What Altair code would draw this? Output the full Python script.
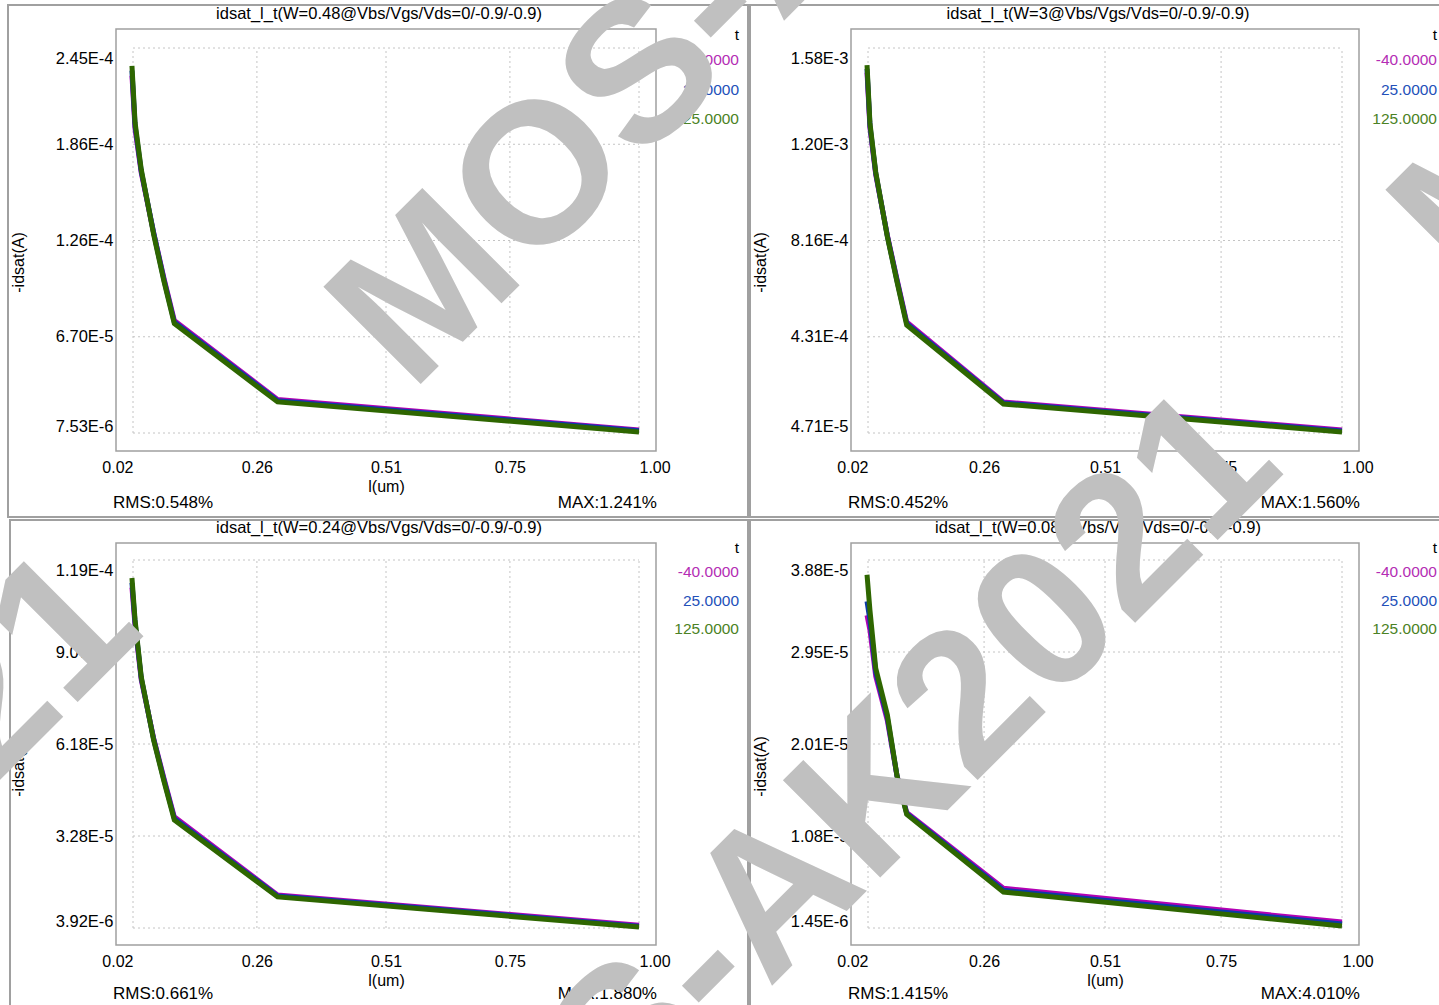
import json
import altair as alt
import pandas as pd

# ---------------- data ----------------
TEMPS = ["-40.0000", "25.0000", "125.0000"]
LINE_COLORS = ["#b400b4", "#0b3aa8", "#2e6600"]
LEGEND_COLORS = ["#b42db4", "#2350b9", "#4b8224"]

L_UM = [0.018, 0.024, 0.036, 0.06, 0.08, 0.1, 0.3, 1.0]
X_TICKS = [0.02, 0.26, 0.51, 0.75, 1.00]

P1_TITLE = "idsat_l_t(W=0.48@Vbs/Vgs/Vds=0/-0.9/-0.9)"
P1_M40 = [2.28e-4, 1.95e-4, 1.68e-4, 1.31e-4, 1.03e-4, 7.7e-5, 2.82e-5, 9.4e-6]
P1_P25 = [2.31e-4, 1.97e-4, 1.69e-4, 1.31e-4, 1.02e-4, 7.6e-5, 2.75e-5, 8.9e-6]
P1_P125 = [2.34e-4, 1.99e-4, 1.70e-4, 1.30e-4, 1.01e-4, 7.5e-5, 2.67e-5, 8.2e-6]
P1_YLABELS = ["7.53E-6", "6.70E-5", "1.26E-4", "1.86E-4", "2.45E-4"]
P1_YRANGE = [7.53e-6, 2.45e-4]
P1_RMS = "RMS:0.548%"
P1_MAX = "MAX:1.241%"

P2_TITLE = "idsat_l_t(W=3@Vbs/Vgs/Vds=0/-0.9/-0.9)"
P2_M40 = [1.485e-3, 1.265e-3, 1.078e-3, 8.36e-4, 6.60e-4, 4.90e-4, 1.71e-4, 5.9e-5]
P2_P25 = [1.500e-3, 1.275e-3, 1.083e-3, 8.33e-4, 6.55e-4, 4.84e-4, 1.67e-4, 5.5e-5]
P2_P125 = [1.515e-3, 1.284e-3, 1.088e-3, 8.30e-4, 6.50e-4, 4.78e-4, 1.63e-4, 5.1e-5]
P2_YLABELS = ["4.71E-5", "4.31E-4", "8.16E-4", "1.20E-3", "1.58E-3"]
P2_YRANGE = [4.71e-5, 1.583e-3]
P2_RMS = "RMS:0.452%"
P2_MAX = "MAX:1.560%"

P3_TITLE = "idsat_l_t(W=0.24@Vbs/Vgs/Vds=0/-0.9/-0.9)"
P3_M40 = [1.110e-4, 0.990e-4, 8.20e-5, 6.36e-5, 5.10e-5, 3.89e-5, 1.43e-5, 4.8e-6]
P3_P25 = [1.125e-4, 1.000e-4, 8.25e-5, 6.33e-5, 5.05e-5, 3.84e-5, 1.40e-5, 4.5e-6]
P3_P125 = [1.140e-4, 1.008e-4, 8.29e-5, 6.30e-5, 5.00e-5, 3.79e-5, 1.37e-5, 4.2e-6]
P3_YLABELS = ["3.92E-6", "3.28E-5", "6.18E-5", "9.07E-5", "1.19E-4"]
P3_YRANGE = [3.92e-6, 1.1968e-4]
P3_RMS = "RMS:0.661%"
P3_MAX = "MAX:1.880%"

P4_TITLE = "idsat_l_t(W=0.08@Vbs/Vgs/Vds=0/-0.9/-0.9)"
P4_M40 = [3.32e-5, 3.17e-5, 2.70e-5, 2.25e-5, 1.69e-5, 1.32e-5, 5.5e-6, 2.07e-6]
P4_P25 = [3.46e-5, 3.27e-5, 2.74e-5, 2.28e-5, 1.69e-5, 1.31e-5, 5.3e-6, 1.87e-6]
P4_P125 = [3.73e-5, 3.37e-5, 2.78e-5, 2.31e-5, 1.69e-5, 1.30e-5, 5.12e-6, 1.67e-6]
P4_YLABELS = ["1.45E-6", "1.08E-5", "2.01E-5", "2.95E-5", "3.88E-5"]
P4_YRANGE = [1.47e-6, 3.88e-5]
P4_RMS = "RMS:1.415%"
P4_MAX = "MAX:4.010%"

WATERMARK = "MOS-AK2021"

FONT = "Liberation Sans"
GRID_COLOR = "#c4c4c4"
FRAME_COLOR = "#a0a0a0"


def one(text):
    return pd.DataFrame({"label": [text]})


def make_panel(title, series, ylabels, yrange, rms, mx, W, H, ins_top, ins_bot,
               ytitle_x, legend_dx, legend_ys, stats_dy, border, watermark=None):
    ins_x = 17
    kx = (X_TICKS[-1] - X_TICKS[0]) / (W - 2 * ins_x)
    xs = alt.Scale(domain=[X_TICKS[0] - ins_x * kx, X_TICKS[-1] + ins_x * kx],
                   nice=False, zero=False)
    lo, hi = yrange
    ky = (hi - lo) / (H - ins_top - ins_bot)
    ys = alt.Scale(domain=[lo - ins_bot * ky, hi + ins_top * ky], nice=False, zero=False)
    step = (hi - lo) / (len(ylabels) - 1)
    yticks = [lo + i * step for i in range(len(ylabels))]

    label_expr = json.dumps(ylabels) + f"[round((datum.value - ({lo!r}))/({step!r}))]"
    yaxis = alt.Axis(
        values=yticks, labelExpr=label_expr, title="-idsat(A)", grid=False,
        domain=False, ticks=False, tickSize=0, labelPadding=3, labelFontSize=16.5,
        labelBaseline="middle",
        labelOffset={"condition": [
            {"test": f"datum.value > {hi - step / 2!r}", "value": 10.5},
            {"test": f"datum.value < {lo + step / 2!r}", "value": -6.5}],
            "value": 0},
        titleX=ytitle_x, titleY=H / 2 + 22, titleAngle=270, titleAlign="center",
        titleBaseline="middle", titleFontSize=16, titleFontWeight="normal")
    xaxis = alt.Axis(
        values=X_TICKS, format=".2f", title="l(um)", grid=False, domain=False,
        ticks=False, tickSize=0, labelPadding=8, labelFontSize=16,
        labelAlign={"condition": [
            {"test": "datum.value < 0.1", "value": "right"},
            {"test": "datum.value > 0.9", "value": "left"}],
            "value": "center"},
        titleX=W / 2, titleY=35, titleBaseline="middle", titleFontSize=16,
        titleFontWeight="normal")

    layers = []
    # outer panel border
    bx0, by0, bx1, by1 = border
    layers.append(alt.Chart(one("")).mark_rect(
        fillOpacity=0, stroke=FRAME_COLOR, strokeWidth=2).encode(
        x=alt.value(bx0), x2=alt.value(bx1), y=alt.value(by0), y2=alt.value(by1)))

    # dotted grid (every scale layer carries the same axis spec)
    hgrid = pd.DataFrame({"y": yticks, "x0": X_TICKS[0], "x1": X_TICKS[-1]})
    vgrid = pd.DataFrame({"x": X_TICKS, "y0": lo, "y1": hi})
    layers.append(alt.Chart(hgrid).mark_rule(
        color=GRID_COLOR, strokeDash=[2, 3], strokeWidth=1).encode(
        x=alt.X("x0:Q", scale=xs, axis=xaxis), x2="x1:Q",
        y=alt.Y("y:Q", scale=ys, axis=yaxis)))
    layers.append(alt.Chart(vgrid).mark_rule(
        color=GRID_COLOR, strokeDash=[2, 3], strokeWidth=1).encode(
        x=alt.X("x:Q", scale=xs, axis=xaxis),
        y=alt.Y("y0:Q", scale=ys, axis=yaxis), y2="y1:Q"))

    # curves: -40 first, 125 on top
    for i, (t, vals) in enumerate(zip(TEMPS, series)):
        df = pd.DataFrame({"l": L_UM, "idsat": vals, "t": t})
        layers.append(alt.Chart(df).mark_line(
            color=LINE_COLORS[i], strokeWidth=5, strokeJoin="miter").encode(
            x=alt.X("l:Q", scale=xs, axis=xaxis),
            y=alt.Y("idsat:Q", scale=ys, axis=yaxis),
            detail="t:N"))

    # title
    layers.append(alt.Chart(one(title)).mark_text(
        font=FONT, fontSize=16.5, color="black", align="center", baseline="middle").encode(
        x=alt.value(W / 2 - 7), y=alt.value(-15), text="label:N"))
    # legend
    legend_items = [("t", "black")] + list(zip(TEMPS, LEGEND_COLORS))
    for (txt, col), yy in zip(legend_items, legend_ys):
        layers.append(alt.Chart(one(txt)).mark_text(
            font=FONT, fontSize=15.5, color=col, align="right", baseline="middle").encode(
            x=alt.value(W + legend_dx), y=alt.value(yy), text="label:N"))
    # RMS / MAX
    layers.append(alt.Chart(one(rms)).mark_text(
        font=FONT, fontSize=17, color="black", align="left", baseline="middle").encode(
        x=alt.value(-3), y=alt.value(H + stats_dy), text="label:N"))
    layers.append(alt.Chart(one(mx)).mark_text(
        font=FONT, fontSize=17, color="black", align="right", baseline="middle").encode(
        x=alt.value(W + 1), y=alt.value(H + stats_dy), text="label:N"))

    if watermark:
        for (wx, wy) in watermark:
            layers.append(alt.Chart(one(WATERMARK)).mark_text(
                font=FONT, fontSize=200, fontWeight="bold", color="#c0c0c0",
                angle=315, align="center", baseline="middle").encode(
                x=alt.value(wx), y=alt.value(wy), text="label:N"))

    return alt.layer(*layers).properties(width=W, height=H)


TOP_LEG = [6, 31, 61, 90]
BOT_LEG = [5, 29, 58, 86]

p1 = make_panel(P1_TITLE, [P1_M40, P1_P25, P1_P125], P1_YLABELS, P1_YRANGE, P1_RMS, P1_MAX,
                540, 422, 19, 18, -98, 83, TOP_LEG, 52, (-108, -24, 632, 488))
p2 = make_panel(P2_TITLE, [P2_M40, P2_P25, P2_P125], P2_YLABELS, P2_YRANGE, P2_RMS, P2_MAX,
                508, 422, 19, 18, -91, 78, TOP_LEG, 52, (-101, -24, 620, 488))
p3 = make_panel(P3_TITLE, [P3_M40, P3_P25, P3_P125], P3_YLABELS, P3_YRANGE, P3_RMS, P3_MAX,
                540, 402, 17, 17, -98, 83, BOT_LEG, 49, (-106, -23, 632, 480))
p4 = make_panel(P4_TITLE, [P4_M40, P4_P25, P4_P125], P4_YLABELS, P4_YRANGE, P4_RMS, P4_MAX,
                508, 402, 17, 17, -91, 78, BOT_LEG, 49, (-101, -23, 620, 480),
                watermark=[(-38, -636), (-1190, 491), (-50, 329), (1024, -733)])

chart = alt.concat(
    p1, p2, p3, p4, columns=2, spacing={"row": 92, "column": 195},
    bounds="flush", align="each"
).properties(
    autosize=alt.AutoSizeParams(type="none"),
    padding={"left": 116, "top": 29, "right": 1323, "bottom": 976},
    background="white",
).configure_view(
    stroke=FRAME_COLOR, strokeWidth=1.5
).configure_axis(
    labelFont=FONT, titleFont=FONT, labelColor="black", titleColor="black"
)

chart.save("out.html", embed_options={"renderer": "svg", "actions": False})
